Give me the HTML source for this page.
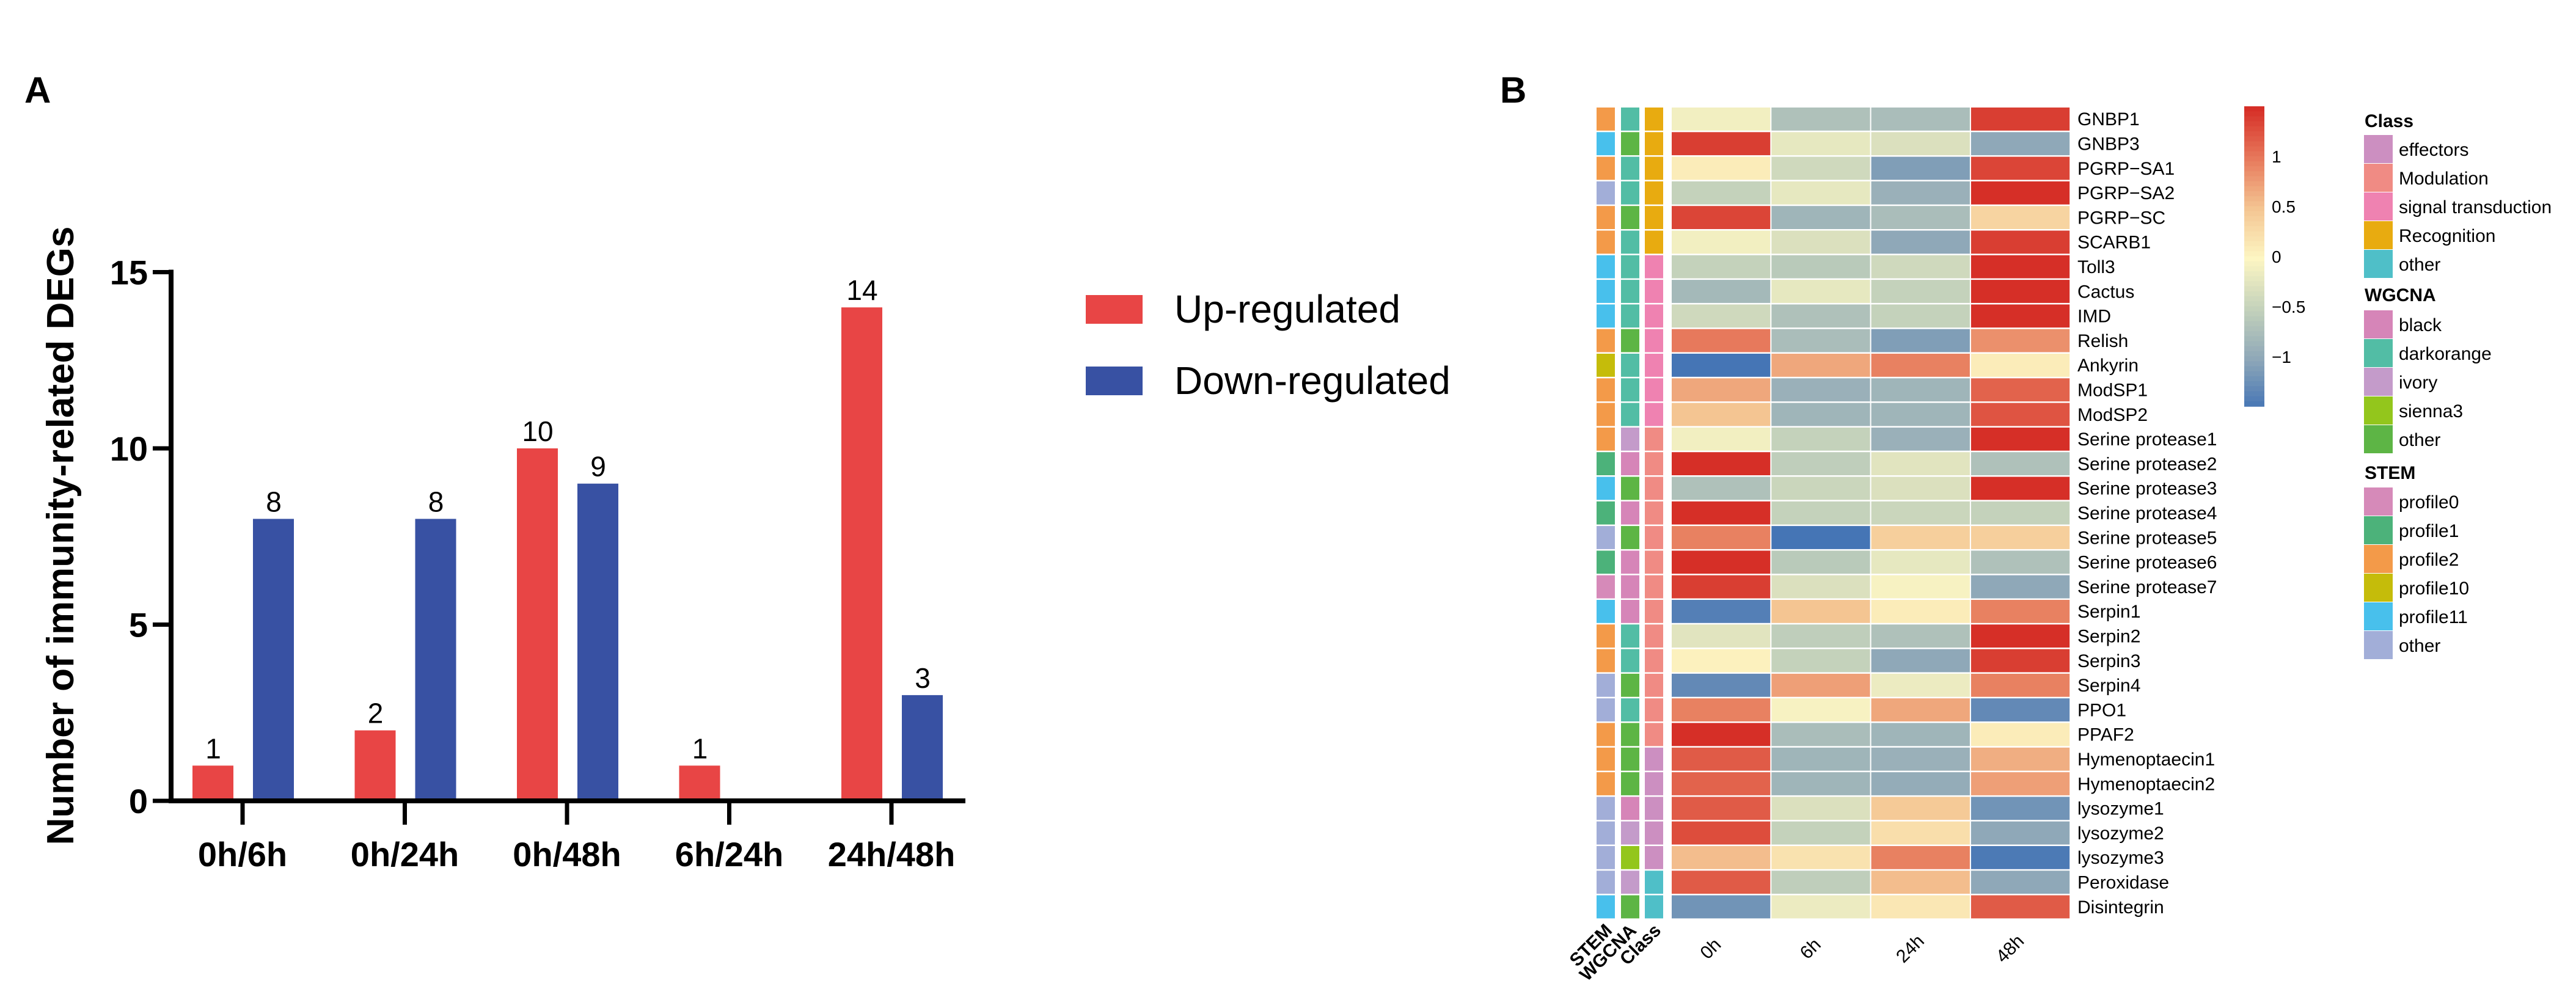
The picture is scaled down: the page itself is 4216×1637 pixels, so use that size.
<!DOCTYPE html>
<html><head><meta charset="utf-8"><style>
html,body{margin:0;padding:0;background:#fff;}
svg{display:block;font-family:"Liberation Sans",Arial,sans-serif;}
</style></head><body>
<svg id="fig" width="4216" height="1637" viewBox="0 0 4216 1637">
<text x="40" y="168" font-size="60" font-weight="bold">A</text>
<text x="2455" y="168" font-size="60" font-weight="bold">B</text>
<g id="bar"></g>
<g id="heat"></g>
</svg>
<script>
const groups=["0h/6h","0h/24h","0h/48h","6h/24h","24h/48h"];
const upVals=[1,2,10,1,14];
const downVals=[8,8,9,0,3];
const yTicks=[0,5,10,15];

const genes=["GNBP1","GNBP3","PGRP\u2212SA1","PGRP\u2212SA2","PGRP\u2212SC","SCARB1","Toll3","Cactus","IMD","Relish","Ankyrin","ModSP1","ModSP2","Serine protease1","Serine protease2","Serine protease3","Serine protease4","Serine protease5","Serine protease6","Serine protease7","Serpin1","Serpin2","Serpin3","Serpin4","PPO1","PPAF2","Hymenoptaecin1","Hymenoptaecin2","lysozyme1","lysozyme2","lysozyme3","Peroxidase","Disintegrin"];
const times=["0h","6h","24h","48h"];
const heatVals=[[-0.1,-0.7,-0.75,1.4],[1.4,-0.2,-0.3,-1.0],[0.1,-0.4,-1.1,1.35],[-0.5,-0.2,-0.9,1.5],[1.35,-0.85,-0.75,0.35],[-0.1,-0.3,-1.0,1.4],[-0.5,-0.6,-0.4,1.5],[-0.8,-0.2,-0.5,1.5],[-0.4,-0.7,-0.5,1.5],[1.0,-0.75,-1.1,0.85],[-1.5,0.7,0.95,0.1],[0.7,-0.9,-0.85,1.15],[0.5,-0.85,-0.85,1.25],[-0.1,-0.5,-0.9,1.5],[1.5,-0.55,-0.25,-0.7],[-0.7,-0.45,-0.3,1.5],[1.5,-0.5,-0.45,-0.5],[0.95,-1.5,0.4,0.4],[1.5,-0.6,-0.2,-0.7],[1.4,-0.3,-0.05,-1.0],[-1.4,0.5,0.1,0.95],[-0.25,-0.55,-0.7,1.5],[0.05,-0.5,-1.0,1.4],[-1.3,0.75,-0.15,0.95],[0.95,-0.05,0.7,-1.3],[1.5,-0.75,-0.85,0.1],[1.2,-0.85,-0.9,0.65],[1.15,-0.85,-0.95,0.75],[1.2,-0.3,0.45,-1.2],[1.3,-0.5,0.25,-1.0],[0.55,0.2,0.95,-1.45],[1.2,-0.55,0.55,-1.0],[-1.2,-0.15,0.15,1.2]];
const stemAnn=["profile2","profile11","profile2","other","profile2","profile2","profile11","profile11","profile11","profile2","profile10","profile2","profile2","profile2","profile1","profile11","profile1","other","profile1","profile0","profile11","profile2","profile2","other","other","profile2","profile2","profile2","other","other","other","other","profile11"];
const wgcnaAnn=["darkorange","other","darkorange","darkorange","other","darkorange","darkorange","darkorange","darkorange","other","darkorange","darkorange","darkorange","ivory","black","other","black","other","black","black","black","darkorange","darkorange","other","darkorange","other","other","other","black","ivory","sienna3","ivory","other"];
const classAnn=["Recognition","Recognition","Recognition","Recognition","Recognition","Recognition","signal transduction","signal transduction","signal transduction","signal transduction","signal transduction","signal transduction","signal transduction","Modulation","Modulation","Modulation","Modulation","Modulation","Modulation","Modulation","Modulation","Modulation","Modulation","Modulation","Modulation","Modulation","effectors","effectors","effectors","effectors","effectors","other","other"];
const cbTicks=[1,0.5,0,-0.5,-1];
const classCats=["effectors","Modulation","signal transduction","Recognition","other"];
const wgcnaCats=["black","darkorange","ivory","sienna3","other"];
const stemCats=["profile0","profile1","profile2","profile10","profile11","other"];

const classCol={"effectors":"#cc8fc1","Modulation":"#f08b84","signal transduction":"#ef82b1","Recognition":"#e8ab10","other":"#4fbfc8"};
const wgcnaCol={"black":"#d685b8","darkorange":"#52bda5","ivory":"#c49bca","sienna3":"#93c61c","other":"#5db545"};
const stemCol={"profile0":"#d68ab9","profile1":"#4cb27a","profile2":"#f39a49","profile10":"#c5bc0a","profile11":"#48c0ec","other":"#a2aed8"};

const NS="http://www.w3.org/2000/svg";
function mk(tag,attrs,parent,txt){const e=document.createElementNS(NS,tag);for(const k in attrs)e.setAttribute(k,attrs[k]);if(txt!==undefined)e.textContent=txt;parent.appendChild(e);return e;}

// ---- bar chart
const bar=document.getElementById('bar');
const y0=1311,yPer=57.7;
const yS=v=>y0-v*yPer;
const gx=i=>397+i*265.5;
const ax=280,axEnd=1580;
for(let i=0;i<groups.length;i++){
  const r=mk('rect',{x:gx(i)-82,y:yS(upVals[i]),width:67,height:upVals[i]*yPer,fill:"#e84545"},bar);
  
  
  const t=mk('text',{x:gx(i)-48,y:yS(upVals[i])-12,'font-size':46,'text-anchor':'middle'},bar,String(upVals[i]));
  
  
  if(downVals[i]>0){
    const b=mk('rect',{x:gx(i)+17,y:yS(downVals[i]),width:67,height:downVals[i]*yPer,fill:"#3851a3"},bar);
    
    
    const t2=mk('text',{x:gx(i)+51,y:yS(downVals[i])-12,'font-size':46,'text-anchor':'middle'},bar,String(downVals[i]));
    
    
  }
  const tk=mk('line',{x1:gx(i),x2:gx(i),y1:y0,y2:1350,stroke:"#000",'stroke-width':7},bar);
  
  
  const lb=mk('text',{x:gx(i),y:1418,'font-size':56,'font-weight':'bold','text-anchor':'middle'},bar,groups[i]);
  
  
}
const xa=mk('line',{x1:ax-4,x2:axEnd,y1:y0,y2:y0,stroke:"#000",'stroke-width':8},bar);


const ya=mk('line',{x1:ax,x2:ax,y1:yS(15)-4,y2:y0+4,stroke:"#000",'stroke-width':8},bar);


yTicks.forEach(v=>{
  const l=mk('line',{x1:ax-30,x2:ax,y1:yS(v),y2:yS(v),stroke:"#000",'stroke-width':7},bar);
  
  
  const t=mk('text',{x:ax-38,y:yS(v)+20,'font-size':56,'font-weight':'bold','text-anchor':'end'},bar,String(v));
  
  
});
const yt=mk('text',{x:0,y:0,'font-size':62,'font-weight':'bold','text-anchor':'middle',transform:'translate(120,877) rotate(-90)'},bar,"Number of immunity-related DEGs");


[["Up-regulated","#e84545",483],["Down-regulated","#3851a3",600]].forEach(([n,c,y])=>{
  const r=mk('rect',{x:1777,y:y,width:93,height:47,fill:c},bar);
  
  
  const t=mk('text',{x:1922,y:y+45,'font-size':64},bar,n);
  
  
});

// ---- heatmap
const heat=document.getElementById('heat');
const stops=[[-1.5,[69,117,181]],[-1,[143,168,184]],[-0.5,[196,210,187]],[0,[253,246,195]],[0.5,[244,197,146]],[1,[231,121,92]],[1.5,[214,47,39]]];
function col(v){v=Math.max(-1.5,Math.min(1.5,v));for(let i=0;i<stops.length-1;i++){const a=stops[i],b=stops[i+1];if(v<=b[0]){const f=(v-a[0])/(b[0]-a[0]);const c=a[1].map((x,k)=>Math.round(x+(b[1][k]-x)*f));return `rgb(${c})`;}}return 'rgb(214,47,39)';}
const hx0=2735,cw=163.3,hy0=175,rh=40.3;
genes.forEach((g,r)=>{
  const y=hy0+r*rh;
  [[stemAnn,stemCol,2613],[wgcnaAnn,wgcnaCol,2653],[classAnn,classCol,2692]].forEach(([arr,cm,x])=>{
    const a=mk('rect',{x:x,y:y+1,width:30,height:rh-2.5,fill:cm[arr[r]]},heat);
    
    
  });
  heatVals[r].forEach((v,c)=>{
    const e=mk('rect',{x:hx0+c*cw+1,y:y+1,width:cw-2,height:rh-2.5,fill:col(v)},heat);
    
    
  });
  const t=mk('text',{x:3400,y:y+rh/2+10,'font-size':30},heat,g);
  
  
});
times.forEach((t,c)=>{
  const cx=hx0+c*cw+cw/2-10;
  const e=mk('text',{x:0,y:0,'font-size':30,'text-anchor':'middle',transform:`translate(${cx},1560) rotate(-45)`},heat,t);
  
  
});
[["STEM",2640],["WGCNA",2680],["Class",2720]].forEach(([n,x])=>{
  const e=mk('text',{x:0,y:0,'font-size':30,'font-weight':'bold','text-anchor':'end',transform:`translate(${x},1525) rotate(-45)`},heat,n);
  
  
});
// colorbar
const cbTop=174,cbBot=665,cbZero=420,cbUnit=164;
for(let i=0;i<60;i++){
  const v=1.5-i*3/60;
  const r=mk('rect',{x:3673,y:cbTop+i*(cbBot-cbTop)/60,width:33,height:(cbBot-cbTop)/60+0.8,fill:col(v)},heat);
  
  
}
cbTicks.forEach(v=>{
  const t=mk('text',{x:3718,y:cbZero-v*cbUnit+10,'font-size':28},heat,(v<0?'\u2212':'')+Math.abs(v));
  
  
});
// legends
function legend(title,cats,cm,ty,top){
  const t=mk('text',{x:3870,y:ty+10,'font-size':30,'font-weight':'bold'},heat,title);
  
  
  cats.forEach((c,i)=>{
    const r=mk('rect',{x:3869,y:top+i*47,width:47,height:46,fill:cm[c]},heat);
    
    
    const l=mk('text',{x:3926,y:top+i*47+34,'font-size':30},heat,c);
    
    
  });
}
legend("Class",classCats,classCol,198,221);
legend("WGCNA",wgcnaCats,wgcnaCol,483,508);
legend("STEM",stemCats,stemCol,774,798);
</script>
</body></html>
